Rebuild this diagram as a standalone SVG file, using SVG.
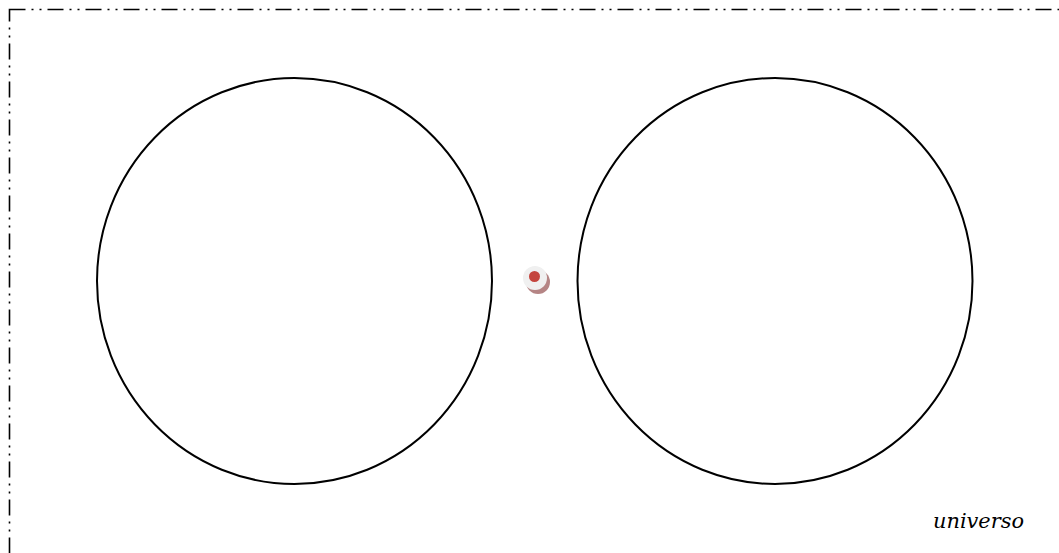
<svg xmlns="http://www.w3.org/2000/svg" width="1059" height="553" viewBox="0 0 1059 553">
<style>
.set{fill:none;stroke:#000;stroke-width:2}
.lbl{font-family:"DejaVu Serif",serif;font-style:italic;font-size:21px;fill:#000}
</style>
<rect x="0" y="0" width="1059" height="553" fill="#fff"/>
<g id="universe">
<rect x="9.5" y="9.5" width="1070" height="570" fill="none" stroke="#000" stroke-width="1.6" stroke-dasharray="16 6 2 6 2 6"/>
<text class="lbl" x="933" y="528" textLength="91" lengthAdjust="spacingAndGlyphs">universo</text>
</g>
<g id="setA"><ellipse class="set" cx="294.5" cy="281" rx="197.5" ry="203"/></g>
<g id="setB"><ellipse class="set" cx="775" cy="281" rx="197.5" ry="203"/></g>
<g id="point">
<circle cx="538" cy="282" r="12" fill="#a87070" opacity="0.85"/>
<circle cx="535" cy="278" r="12" fill="#f0f0f0"/>
<circle cx="534.5" cy="276.5" r="5.5" fill="#c4453e"/>
</g>
</svg>
